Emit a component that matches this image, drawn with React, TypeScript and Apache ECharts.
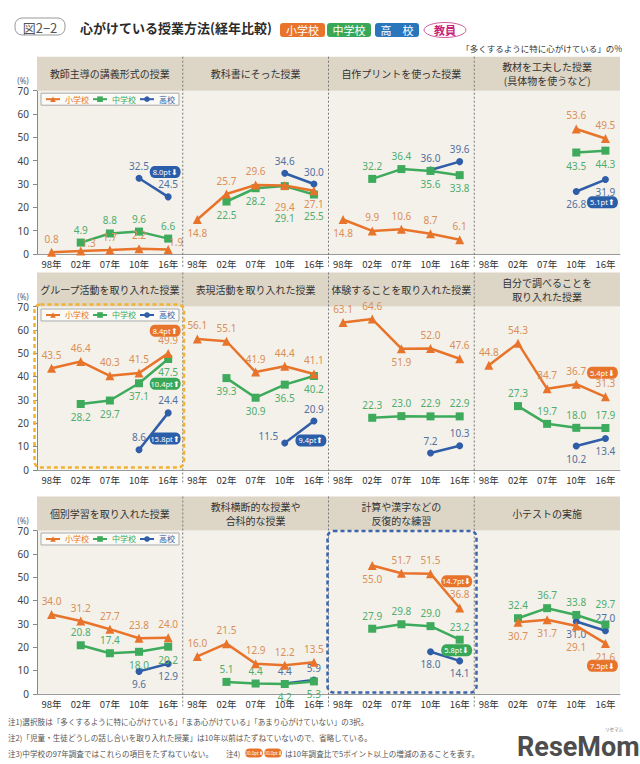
import React, { useEffect, useRef } from 'react';
import * as echarts from 'echarts';

const categories = ['98年', '02年', '07年', '10年', '16年'];
const yAxisRange = { min: 0, max: 70, step: 10 };
const seriesNames = ['小学校', '中学校', '高校'];

const panelTitles = [
  '教師主導の講義形式の授業',
  '教科書にそった授業',
  '自作プリントを使った授業',
  '教材を工夫した授業\n(具体物を使うなど)',
  'グループ活動を取り入れた授業',
  '表現活動を取り入れた授業',
  '体験することを取り入れた授業',
  '自分で調べることを\n取り入れた授業',
  '個別学習を取り入れた授業',
  '教科横断的な授業や\n合科的な授業',
  '計算や漢字などの\n反復的な練習',
  '小テストの実施',
];

const N = null;
const elementary = [
  [0.8, 1.3, 1.7, 2.2, 1.9],
  [14.8, 25.7, 29.6, 29.4, 27.1],
  [14.8, 9.9, 10.6, 8.7, 6.1],
  [N, N, N, 53.6, 49.5],
  [43.5, 46.4, 40.3, 41.5, 49.9],
  [56.1, 55.1, 41.9, 44.4, 41.1],
  [63.1, 64.6, 51.9, 52.0, 47.6],
  [44.8, 54.3, 34.7, 36.7, 31.3],
  [34.0, 31.2, 27.7, 23.8, 24.0],
  [16.0, 21.5, 12.9, 12.2, 13.5],
  [N, 55.0, 51.7, 51.5, 36.8],
  [N, 30.7, 31.7, 29.1, 21.6],
];
const juniorHigh = [
  [N, 4.9, 8.8, 9.6, 6.6],
  [N, 22.5, 28.2, 29.1, 25.5],
  [N, 32.2, 36.4, 35.6, 33.8],
  [N, N, N, 43.5, 44.3],
  [N, 28.2, 29.7, 37.1, 47.5],
  [N, 39.3, 30.9, 36.5, 40.2],
  [N, 22.3, 23.0, 22.9, 22.9],
  [N, 27.3, 19.7, 18.0, 17.9],
  [N, 20.8, 17.4, 18.0, 20.2],
  [N, 5.1, 4.4, 4.2, 5.3],
  [N, 27.9, 29.8, 29.0, 23.2],
  [N, 32.4, 36.7, 33.8, 29.7],
];
const highSchool = [
  [N, N, N, 32.5, 24.5],
  [N, N, N, 34.6, 30.0],
  [N, N, N, 36.0, 39.6],
  [N, N, N, 26.8, 31.9],
  [N, N, N, 8.6, 24.4],
  [N, N, N, 11.5, 20.9],
  [N, N, N, 7.2, 10.3],
  [N, N, N, 10.2, 13.4],
  [N, N, N, 9.6, 12.9],
  [N, N, N, 4.4, 5.9],
  [N, N, N, 18.0, 14.1],
  [N, N, N, 31.0, 27.0],
];

// label placement codes per point: t top, T far top, b bottom, B far bottom, D farther bottom, R top-right, L left-up
const elementaryLabelPos = ['tRttR', 'bttBb', 'btttt', '---tt', 'ttttt', 'ttttt', 'ttbtt', 'ttttt', 'ttttt', 'ttttt', '-bttt', '-bbBb'];
const juniorLabelPos = ['-tttt', '-bbDB', '-ttbb', '---bb', '-bbbb', '-bbbb', '-tttt', '-tttt', '-ttbb', '-ttbb', '-tttt', '-tttT'];
const highLabelPos = ['---tt', '---tt', '---tt', '---bb', '---tt', '---Lt', '---tt', '---bb', '---bb', '---tt', '---bb', '---bt'];

// change badges (annotations): panel, series index, text, direction, anchor in data coords
const badges = [
  { panel: 0, s: 2, text: '8.0pt', up: false, at: [4, 35.2] },
  { panel: 3, s: 2, text: '5.1pt', up: true, at: [4, 22.2] },
  { panel: 4, s: 0, text: '8.4pt', up: true, at: [4, 59.6] },
  { panel: 4, s: 1, text: '10.4pt', up: true, at: [4, 36.9] },
  { panel: 4, s: 2, text: '15.8pt', up: true, at: [4, 13.4] },
  { panel: 5, s: 2, text: '9.4pt', up: true, at: [4, 12.6] },
  { panel: 7, s: 0, text: '5.4pt', up: false, at: [4, 41.6] },
  { panel: 10, s: 0, text: '14.7pt', up: false, at: [4, 48.2] },
  { panel: 10, s: 1, text: '5.8pt', up: false, at: [4, 18.7] },
  { panel: 11, s: 0, text: '7.5pt', up: false, at: [4, 12.0] },
];

const footnotes = [
  '注1)選択肢は「多くするように特に心がけている」「まあ心がけている」「あまり心がけていない」の3択。',
  '注2)「児童・生徒どうしの話し合いを取り入れた授業」は10年以前はたずねていないので、省略している。',
  '注3)中学校の97年調査ではこれらの項目をたずねていない。',
  '注4)',
  'は10年調査比で5ポイント以上の増減のあることを表す。',
];

const FONT = "'Noto Sans CJK JP', 'Noto Sans', sans-serif";
const NUM_FONT = "'Noto Sans', 'Open Sans', sans-serif";
const ORANGE = '#E8742B';
const GREEN = '#3DAA5C';
const BLUE = '#2F5DA7';
const LINE_COLORS = [ORANGE, GREEN, BLUE];
const LABEL_COLORS = ['#D98F58', '#4FAD6C', '#52709F'];
const BADGE_COLORS = [ORANGE, '#38A757', '#2B5EA9'];
const SYMBOLS = ['triangle', 'rect', 'circle'];
const SYMBOL_SIZES = [9, 8, 7];

const GRID_LEFT = 37;
const PANEL_W = 145.75;
const GRID_H = 163.3;
const ROW_TOPS = [90.7, 306.5, 530.5];
const BAND_H = 34;
const PLOT_BG = '#F4F1EA';
const BAND_BG = '#DDD6C7';
const PILL = 'path://M6,0 L34,0 A6,6 0 0 1 34,12 L6,12 A6,6 0 0 1 6,0 Z';

function labelFor(code: string) {
  switch (code) {
    case 't': return { position: 'top', distance: 4 };
    case 'T': return { position: 'top', distance: 12 };
    case 'b': return { position: 'bottom', distance: 4 };
    case 'B': return { position: 'bottom', distance: 12 };
    case 'D': return { position: 'bottom', distance: 23 };
    case 'R': return { position: 'top', distance: 2, offset: [8, 4] };
    case 'L': return { position: 'left', distance: 3, offset: [0, -7] };
    default: return { position: 'top', distance: 4 };
  }
}

function buildOption() {
  const grids: any[] = [];
  const xAxes: any[] = [];
  const yAxes: any[] = [];
  const series: any[] = [];
  const graphic: any[] = [];

  const groups = [elementary, juniorHigh, highSchool];
  const posCodes = [elementaryLabelPos, juniorLabelPos, highLabelPos];

  for (let p = 0; p < 12; p++) {
    const row = Math.floor(p / 4);
    const col = p % 4;
    const left = GRID_LEFT + col * PANEL_W;
    const top = ROW_TOPS[row];
    grids.push({
      left, top, width: PANEL_W, height: GRID_H,
      show: true, backgroundColor: PLOT_BG, borderWidth: 0,
    });
    xAxes.push({
      gridIndex: p, type: 'category', data: categories, boundaryGap: true,
      axisLine: { show: true, lineStyle: { color: '#9a9a9a', width: 1 } },
      axisTick: { show: false },
      axisLabel: { fontSize: 9.5, color: '#333', margin: 5, fontFamily: FONT },
    });
    yAxes.push({
      gridIndex: p, type: 'value', min: yAxisRange.min, max: yAxisRange.max, interval: yAxisRange.step,
      show: col === 0,
      splitLine: { show: false },
      axisLine: { show: true, lineStyle: { color: '#888' } },
      axisTick: { show: true, length: 4, lineStyle: { color: '#888' } },
      axisLabel: { fontSize: 10, color: '#444', margin: 8, fontFamily: NUM_FONT },
    });

    for (let s = 0; s < 3; s++) {
      const vals = groups[s][p];
      const codes = posCodes[s][p];
      const myBadges = badges.filter((b) => b.panel === p && b.s === s);
      series.push({
        type: 'line',
        name: seriesNames[s],
        xAxisIndex: p, yAxisIndex: p,
        data: vals.map((v, i) => (v == null ? '-' : { value: v, label: labelFor(codes[i]) })),
        symbol: SYMBOLS[s],
        symbolSize: SYMBOL_SIZES[s],
        lineStyle: { color: LINE_COLORS[s], width: 2.5 },
        itemStyle: { color: LINE_COLORS[s] },
        z: 3 + (2 - s),
        label: {
          show: true,
          formatter: (prm: any) => Number(prm.value).toFixed(1),
          fontSize: 10,
          color: LABEL_COLORS[s],
          fontFamily: NUM_FONT,
        },
        markPoint: myBadges.length ? {
          silent: true,
          symbol: PILL,
          symbolSize: [31, 12],
          symbolKeepAspect: false,
          data: myBadges.map((b) => ({
            coord: b.at,
            symbolOffset: [-3, 0],
            itemStyle: { color: BADGE_COLORS[s] },
            label: {
              show: true, position: 'inside',
              formatter: b.text + (b.up ? '⬆' : '⬇'),
              color: '#fff', fontSize: 7.5, fontFamily: NUM_FONT,
            },
          })),
        } : undefined,
      });
    }

    // panel title
    const bandTop = top - BAND_H;
    graphic.push({
      type: 'text',
      x: left + PANEL_W / 2, y: bandTop + BAND_H / 2,
      style: {
        text: panelTitles[p], fill: '#333', fontSize: 10, fontFamily: FONT,
        align: 'center', verticalAlign: 'middle', lineHeight: 14,
      },
      z: 20,
    });
  }

  // header bands, (%) labels, separators
  ROW_TOPS.forEach((top) => {
    graphic.unshift({
      type: 'rect',
      shape: { x: GRID_LEFT, y: top - BAND_H, width: PANEL_W * 4, height: BAND_H },
      style: { fill: BAND_BG },
      z: 1,
    });
    graphic.push({
      type: 'text', x: 23, y: top - 10,
      style: { text: '(%)', fill: '#666', fontSize: 8, fontFamily: NUM_FONT, align: 'center', verticalAlign: 'middle' },
    });
    for (let c = 1; c < 4; c++) {
      const x = GRID_LEFT + c * PANEL_W;
      graphic.push({
        type: 'line',
        shape: { x1: x, y1: top - BAND_H, x2: x, y2: top + GRID_H + 14 },
        style: { stroke: '#777', lineWidth: 1, lineDash: [2, 2] },
        z: 30,
      });
    }
  });

  // highlight boxes
  graphic.push({
    type: 'rect',
    shape: { x: 34.5, y: 304.5, width: 149.5, height: 163, r: 6 },
    style: { fill: 'none', stroke: '#F1B234', lineWidth: 2.5, lineDash: [4, 3] },
    z: 40,
  });
  graphic.push({
    type: 'rect',
    shape: { x: 327.5, y: 531, width: 149, height: 161.5, r: 6 },
    style: { fill: 'none', stroke: '#3C65AB', lineWidth: 2.5, lineDash: [4, 3] },
    z: 40,
  });

  // title area
  graphic.push(
    {
      type: 'rect', shape: { x: 15, y: 18, width: 50, height: 17, r: 7 },
      style: { fill: '#fff', stroke: '#999', lineWidth: 1 },
    },
    {
      type: 'text', x: 40, y: 27,
      style: { text: '図2−2', fill: '#555', fontSize: 13, fontFamily: FONT, align: 'center', verticalAlign: 'middle' },
    },
    {
      type: 'text', x: 80, y: 27.5,
      style: { text: '心がけている授業方法(経年比較)', fill: '#2b2b2b', fontSize: 13, fontWeight: 'bold', fontFamily: FONT, verticalAlign: 'middle' },
    },
  );
  const headerBadges = [
    { text: '小学校', x: 280, w: 45, color: ORANGE },
    { text: '中学校', x: 327, w: 44, color: '#38A757' },
    { text: '高　校', x: 375, w: 44, color: '#2A76BD' },
  ];
  headerBadges.forEach((b) => {
    graphic.push(
      { type: 'rect', shape: { x: b.x, y: 23, width: b.w, height: 14, r: 3 }, style: { fill: b.color } },
      {
        type: 'text', x: b.x + b.w / 2, y: 30,
        style: { text: b.text, fill: '#fff', fontSize: 11, fontFamily: FONT, align: 'center', verticalAlign: 'middle' },
      },
    );
  });
  graphic.push(
    {
      type: 'ellipse', shape: { cx: 445, cy: 30, rx: 21, ry: 7.5 },
      style: { fill: '#fff', stroke: '#D45A9C', lineWidth: 1 },
    },
    {
      type: 'text', x: 445, y: 30,
      style: { text: '教員', fill: '#C81F7B', fontSize: 11, fontWeight: 'bold', fontFamily: FONT, align: 'center', verticalAlign: 'middle' },
    },
    {
      type: 'text', x: 622, y: 48,
      style: { text: '「多くするように特に心がけている」の%', fill: '#333', fontSize: 8.5, fontFamily: FONT, align: 'right', verticalAlign: 'middle' },
    },
  );

  // footnotes
  const fnStyle = { fill: '#555', fontSize: 7.6, fontFamily: FONT, verticalAlign: 'middle' };
  graphic.push(
    { type: 'text', x: 8, y: 721, style: { ...fnStyle, text: footnotes[0] } },
    { type: 'text', x: 8, y: 737, style: { ...fnStyle, text: footnotes[1] } },
    { type: 'text', x: 8, y: 753, style: { ...fnStyle, text: footnotes[2] } },
    { type: 'text', x: 226, y: 753, style: { ...fnStyle, text: footnotes[3] } },
    { type: 'text', x: 285, y: 753, style: { ...fnStyle, text: footnotes[4] } },
  );
  [{ x: 245, t: '00.0pt⬆' }, { x: 264, t: '00.0pt⬇' }].forEach((b) => {
    graphic.push(
      { type: 'rect', shape: { x: b.x, y: 748.5, width: 18, height: 9, r: 4.5 }, style: { fill: ORANGE } },
      {
        type: 'text', x: b.x + 9, y: 753,
        style: { text: b.t, fill: '#fff', fontSize: 4.5, fontFamily: NUM_FONT, align: 'center', verticalAlign: 'middle' },
      },
    );
  });
  graphic.push(
    {
      type: 'text', x: 517, y: 747,
      style: { text: 'ReseMom', fill: '#4d4d4d', fontSize: 27, fontWeight: 'bold', fontFamily: "'Roboto', 'Liberation Sans', sans-serif", verticalAlign: 'middle' },
    },
    {
      type: 'text', x: 614, y: 729,
      style: { text: 'リセマム', fill: '#777', fontSize: 4.5, fontFamily: FONT, align: 'center', verticalAlign: 'middle' },
    },
  );

  const legends = ROW_TOPS.map((top) => ({
    left: 41, top: top + 2.5,
    orient: 'horizontal',
    backgroundColor: '#FBFAF6',
    borderColor: '#aaa', borderWidth: 1, borderRadius: 0,
    padding: [2, 4],
    itemGap: 3, itemWidth: 14, itemHeight: 7,
    selectedMode: false,
    textStyle: { fontSize: 8, fontFamily: FONT },
    data: seriesNames.map((n, i) => ({ name: n, textStyle: { color: LINE_COLORS[i] } })),
  }));

  return {
    animation: false,
    backgroundColor: '#fff',
    textStyle: { fontFamily: FONT },
    grid: grids,
    xAxis: xAxes,
    yAxis: yAxes,
    legend: legends,
    series,
    graphic: { elements: graphic },
  };
}

export default function App() {
  const ref = useRef<HTMLDivElement>(null);
  useEffect(() => {
    if (!ref.current) return;
    const chart = echarts.init(ref.current, undefined, { renderer: 'svg' });
    chart.setOption(buildOption() as any);
    return () => chart.dispose();
  }, []);
  return (
    <div
      ref={ref}
      style={{ position: 'absolute', left: 0, top: 0, width: 640, height: 764, background: '#fff' }}
    />
  );
}
